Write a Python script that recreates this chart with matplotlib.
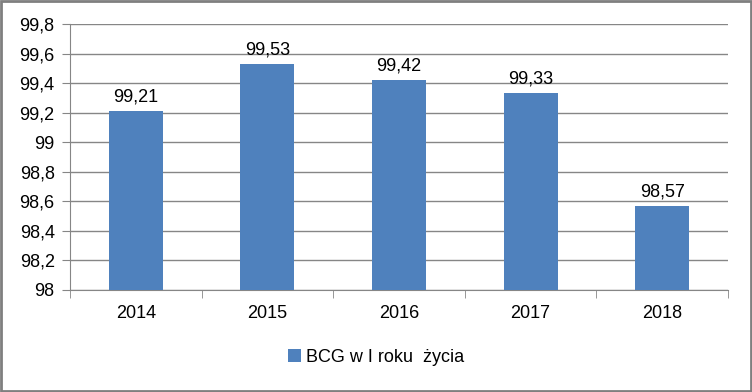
import matplotlib
matplotlib.use("Agg")
import matplotlib.pyplot as plt
from matplotlib.patches import Rectangle
from matplotlib.ticker import FuncFormatter

years = ["2014", "2015", "2016", "2017", "2018"]
values = [99.21, 99.53, 99.42, 99.33, 98.57]
y_ticks = [98.0, 98.2, 98.4, 98.6, 98.8, 99.0, 99.2, 99.4, 99.6, 99.8]
series_name = "BCG w I roku  życia"

plt.rcParams['font.family'] = ['Liberation Sans', 'DejaVu Sans']
FS = 13

fig = plt.figure(figsize=(7.52, 3.92), dpi=100)
ax = fig.add_axes([70/752, 1-290/392, (728-70)/752, (290-24)/392])

color = '#4F81BD'
x = list(range(len(years)))
bars = ax.bar(x, [v - 98 for v in values], bottom=98, width=0.41, color=color, zorder=3, label=series_name)
ax.set_xlim(-0.5, len(years) - 0.5)
ax.set_ylim(98, 99.8)
ax.set_yticks(y_ticks)

def fmt(v, pos):
    s = f"{v:.1f}"
    if s.endswith(".0"):
        s = s[:-2]
    return s.replace(".", ",")

ax.yaxis.set_major_formatter(FuncFormatter(fmt))
ax.set_xticks(x)
ax.set_xticklabels(years)
ax.grid(axis='y', color='#868686', linewidth=1, zorder=0)
for s in ['top', 'right']:
    ax.spines[s].set_visible(False)
ax.spines['left'].set_color('#868686')
ax.spines['bottom'].set_color('#868686')
ax.tick_params(axis='y', length=6, color='#868686', labelsize=FS, pad=5)
ax.tick_params(axis='x', length=0, labelsize=FS, pad=11)
ax.set_xticks([-0.5 + i for i in range(len(years) + 1)], minor=True)
ax.tick_params(axis='x', which='minor', length=6, color='#868686', direction='out')

for xi, v in zip(x, values):
    ax.annotate(f"{v:.2f}".replace(".", ","), (xi, v), xytext=(0, 4), textcoords='offset points',
                ha='center', va='bottom', fontsize=FS)

leg = fig.legend(handles=[bars], labels=[series_name], loc='center', bbox_to_anchor=(0.5, 1-357/392),
                 frameon=False, fontsize=FS, handlelength=0.7, handleheight=0.7, handletextpad=0.3)

fig.patches.append(Rectangle((0.0015, 0.0025), 0.997, 0.995, transform=fig.transFigure,
                             fill=False, edgecolor='#7f7f7f', linewidth=2))

fig.savefig("out.png", dpi=100)
